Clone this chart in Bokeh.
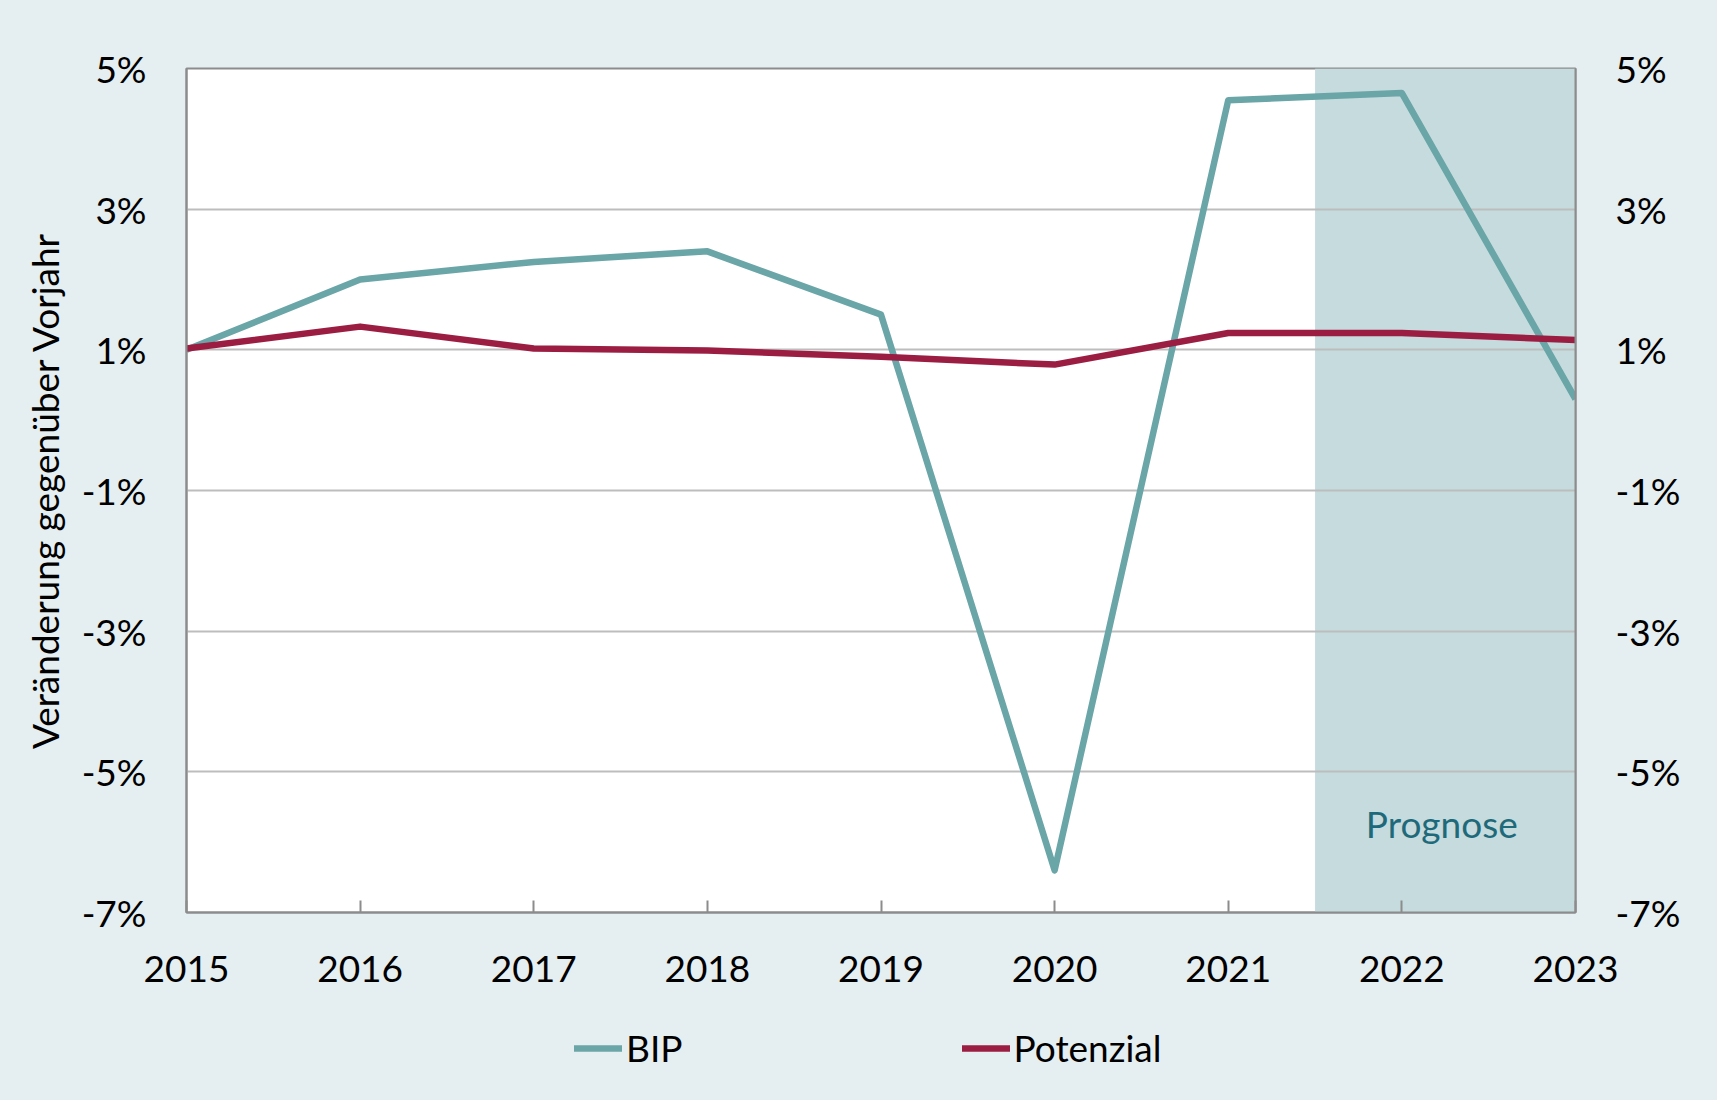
from bokeh.plotting import figure
from bokeh.layouts import column
from bokeh.models import (Range1d, LinearAxis, FixedTicker, PrintfTickFormatter,
                          Legend, LegendItem, BoxAnnotation, Label)
from bokeh.embed import file_html
from bokeh.resources import INLINE

# ---- data ----
years = [2015, 2016, 2017, 2018, 2019, 2020, 2021, 2022, 2023]
bip = [1.0, 2.0, 2.25, 2.4, 1.5, -6.4, 4.55, 4.65, 0.3]
potenzial = [1.02, 1.33, 1.02, 0.99, 0.9, 0.79, 1.24, 1.24, 1.14]
y_ticks = [-7, -5, -3, -1, 1, 3, 5]
forecast_start = 2021.5
forecast_end = 2023
forecast_label = "Prognose"
y_title = "Veränderung gegenüber Vorjahr"
series_names = ["BIP", "Potenzial"]

FONT = "Lato"
TXT = "37px"
BIP_C = "#6aa5a8"
POT_C = "#9b1d42"
PANEL = "#e5eef0"

p = figure(width=1717, height=1018, output_backend="svg", toolbar_location=None,
           x_range=Range1d(2015, 2023), y_range=Range1d(-7, 5),
           min_border_left=186, min_border_right=142, min_border_top=68,
           min_border_bottom=106)
p.background_fill_color = "white"
p.border_fill_color = PANEL
p.outline_line_color = "#8c8c8c"
p.outline_line_width = 2

# forecast shading (below grid)
shade = BoxAnnotation(left=forecast_start, right=forecast_end, fill_color="#c5dbdd",
                      fill_alpha=1.0, line_alpha=0, level="image")
p.add_layout(shade)

# grid
p.xgrid.visible = False
p.ygrid.ticker = FixedTicker(ticks=y_ticks)
p.ygrid.grid_line_color = "#bdbdbd"
p.ygrid.grid_line_width = 2

# axes
p.xaxis.ticker = FixedTicker(ticks=years)
p.xaxis.major_tick_in = 12
p.xaxis.major_tick_out = 0
p.xaxis.minor_tick_line_color = None
p.xaxis.major_tick_line_color = "#8c8c8c"
p.xaxis.major_tick_line_width = 2
p.xaxis.axis_line_color = "#8c8c8c"
p.xaxis.axis_line_width = 2
p.xaxis.major_label_standoff = 43
p.xaxis.major_label_text_font = FONT
p.xaxis.major_label_text_font_size = TXT
p.xaxis.major_label_text_color = "black"

fmt = PrintfTickFormatter(format="%d%%")
p.yaxis.ticker = FixedTicker(ticks=y_ticks)
p.yaxis.formatter = fmt
p.yaxis.major_tick_in = 0
p.yaxis.major_tick_out = 0
p.yaxis.minor_tick_line_color = None
p.yaxis.axis_line_color = "#8c8c8c"
p.yaxis.axis_line_width = 2
p.yaxis.major_label_standoff = 40
p.yaxis.major_label_text_font = FONT
p.yaxis.major_label_text_font_size = TXT
p.yaxis.major_label_text_color = "black"
p.yaxis.axis_label = y_title
p.yaxis.axis_label_text_font = FONT
p.yaxis.axis_label_text_font_size = TXT
p.yaxis.axis_label_text_font_style = "normal"
p.yaxis.axis_label_text_color = "black"
p.yaxis.axis_label_standoff = 12

right = LinearAxis(ticker=FixedTicker(ticks=y_ticks), formatter=fmt)
right.major_tick_in = 0
right.major_tick_out = 0
right.minor_tick_line_color = None
right.axis_line_color = "#8c8c8c"
right.axis_line_width = 2
right.major_label_standoff = 40
right.major_label_text_font = FONT
right.major_label_text_font_size = TXT
right.major_label_text_color = "black"
p.add_layout(right, "right")

# lines
p.line(years, bip, line_color=BIP_C, line_width=6.5, line_join="round")
p.line(years, potenzial, line_color=POT_C, line_width=6.5, line_join="round")

p.add_layout(Label(x=2022.23, y=-5.73, text=forecast_label, text_font=FONT,
                   text_font_size=TXT, text_color="#1f6a7a", text_align="center",
                   text_baseline="middle"))

# ---- legend strip below the chart (series drawn off-view, only legend shows) ----
lg = figure(width=1717, height=82, output_backend="svg", toolbar_location=None,
            x_range=Range1d(0, 1), y_range=Range1d(100, 101),
            x_axis_type=None, y_axis_type=None,
            min_border_left=186, min_border_right=142, min_border_top=0, min_border_bottom=0)
lg.background_fill_color = PANEL
lg.border_fill_color = PANEL
lg.outline_line_color = None
lg.grid.visible = False
lb = lg.line(years, bip, line_color=BIP_C, line_width=6.5, line_cap="round")
lp = lg.line(years, potenzial, line_color=POT_C, line_width=6.5, line_cap="round")
legend = Legend(items=[LegendItem(label=series_names[0], renderers=[lb]),
                       LegendItem(label=series_names[1], renderers=[lp])],
                orientation="horizontal", location=(388, 30),
                label_text_font=FONT, label_text_font_size=TXT, label_text_color="black",
                glyph_width=48, glyph_height=40, label_standoff=4, spacing=279,
                background_fill_alpha=0, border_line_alpha=0, margin=0, padding=0)
lg.add_layout(legend, "center")

layout = column(p, lg, spacing=0, styles={"background-color": PANEL})
open("out.html", "w").write(file_html(layout, INLINE))
